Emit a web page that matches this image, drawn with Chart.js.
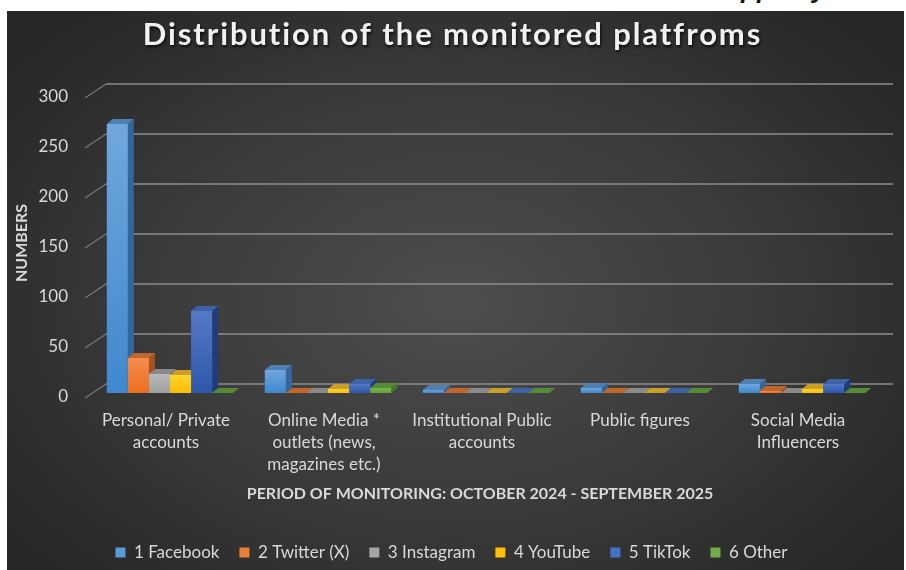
<!DOCTYPE html>
<html>
<head>
<meta charset="utf-8">
<script src="https://cdn.jsdelivr.net/npm/chart.js@4.4.1/dist/chart.umd.min.js"></script>
<style>
    html, body { margin: 0; padding: 0; background: #fff; width: 906px; height: 570px; overflow: hidden; }
    #panel { position: absolute; left: 7px; top: 11px; width: 897px; height: 559px;
        background: radial-gradient(ellipse 62% 68% at 50% 52%, #4d4d4d 0%, #3c3c3c 50%, #272727 100%); }
    #wrap { position: absolute; left: 0; top: 0; width: 906px; height: 570px; }
    .cut { position: absolute; top: -26px; font: italic bold 26px 'Liberation Sans', sans-serif; color: #111; }
</style>
</head>
<body>
<div class="cut" style="left:741px">pp</div>
<div class="cut" style="left:812px">y</div>
<div id="panel"></div>
<div id="wrap"><canvas id="myChart" width="906" height="570"></canvas></div>
<script>
    const categories = [
        ['Personal/ Private', 'accounts'],
        ['Online Media *', 'outlets (news,', 'magazines etc.)'],
        ['Institutional Public', 'accounts'],
        ['Public figures'],
        ['Social Media', 'Influencers']
    ];
    const facebook = [269, 23, 3, 5, 9];
    const twitter = [35, 0, 0, 0, 2];
    const instagram = [19, 0, 0, 0, 0];
    const youtube = [18, 4, 0, 0, 4];
    const tiktok = [82, 9, 0, 0, 9];
    const other = [0, 5, 0, 0, 0];
    const seriesNames = ['1 Facebook', '2 Twitter (X)', '3 Instagram', '4 YouTube', '5 TikTok', '6 Other'];
    const yTicks = [0, 50, 100, 150, 200, 250, 300];

    // front gradient (top, bottom), side face, top face, legend swatch
    const frontTop = ['#70a7dd', '#f68c50', '#bababa', '#ffd230', '#5679c6', '#7ab650'];
    const frontBottom = ['#3f88cf', '#ec6e1d', '#a0a0a0', '#fdbe00', '#2d57aa', '#62a03a'];
    const sideColors = ['#33679b', '#a75321', '#737373', '#b38500', '#1f3e79', '#467a29'];
    const topColors = ['#4f80b1', '#c2672c', '#8a8a8a', '#c99f2a', '#3d62a6', '#548b34'];
    const swatches = ['#5b9bd5', '#ed7d31', '#a5a5a5', '#ffc000', '#4472c4', '#70ad47'];

    const DX = 6, DY = 5;
    const textColor = '#d9d9d9';
    Chart.defaults.font.family = "Lato, 'Open Sans', sans-serif";

    function frontFill(i) {
        return function (c) {
            const chart = c.chart;
            const y = chart.scales.y;
            if (!y || !chart.chartArea) return swatches[i];
            const top = y.getPixelForValue(c.raw);
            const bottom = y.getPixelForValue(0);
            if (bottom - top < 1) return frontBottom[i];
            const g = chart.ctx.createLinearGradient(0, top, 0, bottom);
            g.addColorStop(0, frontTop[i]);
            g.addColorStop(1, frontBottom[i]);
            return g;
        };
    }

    const values = [facebook, twitter, instagram, youtube, tiktok, other];
    const datasets = values.map(function (v, i) {
        return {
            label: seriesNames[i],
            data: v,
            backgroundColor: frontFill(i),
            borderWidth: 0,
            barPercentage: 1,
            categoryPercentage: 0.8
        };
    });

    // move a drawing method sideways (title / legend are centred on the whole canvas in the original)
    function shiftDraw(obj, name, chart, dx, dy, title) {
        if (!obj || obj['_w_' + name]) return;
        const orig = obj[name].bind(obj);
        obj[name] = function () {
            const ctx = chart.ctx;
            ctx.save();
            ctx.translate(dx, dy);
            if (title) {
                ctx.letterSpacing = '1.9px';
                ctx.shadowColor = 'rgba(0,0,0,0.75)';
                ctx.shadowOffsetX = 1;
                ctx.shadowOffsetY = 2;
                ctx.shadowBlur = 3;
            }
            orig.apply(null, arguments);
            ctx.restore();
        };
        obj['_w_' + name] = true;
    }

    const depth = {
        id: 'depth',
        afterLayout(chart) {
            shiftDraw(chart.titleBlock, 'draw', chart, 12, 0, true);
            shiftDraw(chart.legend, 'draw', chart, 11, 1.5, false);
            shiftDraw(chart.scales.x, 'drawTitle', chart, -6, 0, false);
        },
        beforeDatasetsDraw(chart) {
            const ctx = chart.ctx;
            const a = chart.chartArea;
            const y = chart.scales.y;
            ctx.save();
            // back wall grid lines + left wall edges
            yTicks.forEach(function (v) {
                const py = y.getPixelForValue(v);
                ctx.strokeStyle = '#7a7a7a';
                ctx.lineWidth = 1.2;
                ctx.beginPath();
                ctx.moveTo(a.left - 6, py + 5);
                ctx.lineTo(a.left + 15, py - 9);
                ctx.stroke();
                ctx.strokeStyle = '#8c8c8c';
                ctx.lineWidth = 1.6;
                ctx.beginPath();
                ctx.moveTo(a.left + 15, py - 9);
                ctx.lineTo(a.right + 12, py - 9);
                ctx.stroke();
            });
            // side and top faces of every bar, left to right; front faces come after
            chart.data.datasets.forEach(function (ds, i) {
                const meta = chart.getDatasetMeta(i);
                meta.data.forEach(function (bar) {
                    const p = bar.getProps(['x', 'y', 'base', 'width'], true);
                    const l = p.x - p.width / 2, r = p.x + p.width / 2;
                    const top = Math.min(p.y, p.base), base = Math.max(p.y, p.base);
                    ctx.fillStyle = sideColors[i];
                    ctx.beginPath();
                    ctx.moveTo(r, top);
                    ctx.lineTo(r + DX, top - DY);
                    ctx.lineTo(r + DX, base - DY);
                    ctx.lineTo(r, base);
                    ctx.closePath();
                    ctx.fill();
                    ctx.fillStyle = topColors[i];
                    ctx.beginPath();
                    ctx.moveTo(l, top);
                    ctx.lineTo(l + DX, top - DY);
                    ctx.lineTo(r + DX, top - DY);
                    ctx.lineTo(r, top);
                    ctx.closePath();
                    ctx.fill();
                });
            });
            ctx.restore();
        }
    };

    const ctx = document.getElementById('myChart');
    const myChart = new Chart(ctx, {
        type: 'bar',
        data: {
            labels: categories,
            datasets: datasets
        },
        plugins: [depth],
        options: {
            responsive: false,
            animation: false,
            layout: {padding: {left: 0, right: 25, top: 0, bottom: 0.5}},
            plugins: {
                title: {
                    display: true,
                    text: 'Distribution of the monitored platfroms',
                    color: '#f2f2f2',
                    font: {size: 31, weight: 'bold'},
                    padding: {top: 16, bottom: 39.8}
                },
                legend: {
                    position: 'bottom',
                    labels: {
                        color: textColor,
                        font: {size: 17},
                        boxWidth: 10,
                        boxHeight: 10,
                        padding: 20,
                        generateLabels: function (chart) {
                            return chart.data.datasets.map(function (ds, i) {
                                return {
                                    text: ds.label,
                                    fillStyle: swatches[i],
                                    strokeStyle: swatches[i],
                                    lineWidth: 0,
                                    hidden: false,
                                    datasetIndex: i,
                                    fontColor: textColor
                                };
                            });
                        }
                    }
                },
                tooltip: {enabled: false}
            },
            scales: {
                x: {
                    grid: {display: false, drawTicks: false},
                    border: {display: false},
                    ticks: {
                        color: textColor,
                        font: {size: 17, lineHeight: 1.294},
                        padding: 17,
                        labelOffset: -4,
                        maxRotation: 0,
                        autoSkip: false
                    },
                    title: {
                        display: true,
                        text: 'PERIOD OF MONITORING: OCTOBER 2024 - SEPTEMBER 2025',
                        color: textColor,
                        font: {size: 16, weight: 'bold'},
                        padding: {top: 10, bottom: 19}
                    },
                    afterFit: function (scale) { scale.height = 129.5; }
                },
                y: {
                    min: 0,
                    max: 300,
                    grid: {display: false, drawTicks: false},
                    border: {display: false},
                    ticks: {
                        stepSize: 50,
                        color: textColor,
                        font: {size: 17},
                        padding: 23,
                        labelOffset: 4
                    },
                    title: {
                        display: true,
                        text: 'NUMBERS',
                        color: textColor,
                        font: {size: 16, weight: 'bold'},
                        padding: {top: 12, bottom: 0}
                    },
                    afterFit: function (scale) { scale.width = 91; }
                }
            }
        }
    });
</script>
</body>
</html>
